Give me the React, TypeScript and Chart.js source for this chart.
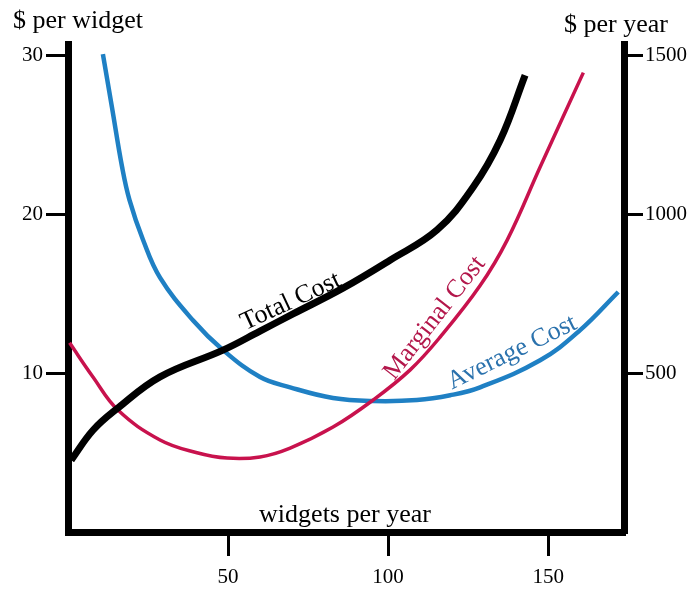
import React, { useEffect, useRef } from "react";
import { Chart, registerables } from "chart.js";

Chart.register(...registerables);

// ---- Data ----
// Total cost ($ per year, right axis)
const totalCostX = [1, 7.8, 15.6, 28.75, 48.4, 60, 70.3, 85.9, 100.6, 115.3, 126.6, 135, 142.8];
const totalCostY = [226, 320, 390, 488, 572, 632, 686, 767, 855, 950, 1085, 1232, 1437];

// Marginal cost ($ per widget, left axis)
const marginalCostX = [0.5, 7.8, 15.6, 28.75, 40, 49.7, 60, 69.4, 82.8, 95.3, 106.9, 116.25, 128.75, 137.2, 147.5, 161];
const marginalCostY = [11.9, 9.75, 7.67, 5.79, 5.0, 4.65, 4.72, 5.28, 6.6, 8.3, 10.2, 12.26, 15.5, 18.36, 22.96, 28.9];

// Average cost ($ per widget, left axis)
const averageCostX = [10.9, 13.75, 16.9, 19.2, 23.4, 28.75, 39.1, 48.4, 60, 69.4, 82.8, 95.3, 109, 119.4, 128.75, 147.5, 160, 171.9];
const averageCostY = [30.06, 26.7, 22.96, 20.9, 18.4, 16.0, 13.3, 11.45, 9.75, 9.1, 8.43, 8.24, 8.3, 8.6, 9.1, 10.8, 12.7, 15.1];

// Tick labels
const xTicks = [50, 100, 150];
const leftTicks = [10, 20, 30];
const rightTicks = [500, 1000, 1500];

// Texts
const leftAxisTitle = "$ per widget";
const rightAxisTitle = "$ per year";
const xAxisTitle = "widgets per year";
const curveLabels = ["Total Cost", "Marginal Cost", "Average Cost"];

// Axis ranges
const X_MAX = 173.7;
const LEFT_MAX = 30.7;
const RIGHT_MAX = LEFT_MAX * 50;

const FONT = "'Liberation Serif', 'Times New Roman', serif";
const RED = "#c8124d";
const BLUE = "#1f80c4";

const zip = (xs: number[], ys: number[]) => xs.map((x, i) => ({ x, y: ys[i] }));

const textPlugin = {
  id: "costTexts",
  afterDraw(chart: any) {
    const ctx = chart.ctx as CanvasRenderingContext2D;
    const xs = chart.scales.x;
    const ys = chart.scales.y;
    ctx.save();
    ctx.fillStyle = "#000";
    ctx.font = `26px ${FONT}`;
    ctx.textBaseline = "alphabetic";
    ctx.textAlign = "left";
    ctx.fillText(leftAxisTitle, 13, 28);
    ctx.fillText(rightAxisTitle, 564, 32);
    ctx.textAlign = "center";
    ctx.fillText(xAxisTitle, 345, 522);

    const labels = [
      { text: curveLabels[0], x: 70.5, y: 14.1, angle: -25, color: "#000" },
      { text: curveLabels[1], x: 116.25, y: 13.2, angle: -52, color: "#b3174b" },
      { text: curveLabels[2], x: 139.7, y: 10.9, angle: -26, color: "#2b72ad" },
    ];
    for (const l of labels) {
      ctx.save();
      ctx.translate(xs.getPixelForValue(l.x), ys.getPixelForValue(l.y));
      ctx.rotate((l.angle * Math.PI) / 180);
      ctx.fillStyle = l.color;
      ctx.font = `26px ${FONT}`;
      ctx.textAlign = "center";
      ctx.textBaseline = "alphabetic";
      ctx.fillText(l.text, 0, 0);
      ctx.restore();
    }
    ctx.restore();
  },
};

export default function App() {
  const ref = useRef<HTMLCanvasElement | null>(null);

  useEffect(() => {
    if (!ref.current) return;
    const tickFont = { family: FONT, size: 21 };
    const plain = (v: any) => String(v);
    const chart = new Chart(ref.current, {
      type: "line",
      data: {
        datasets: [
          {
            label: curveLabels[0],
            data: zip(totalCostX, totalCostY),
            xAxisID: "x",
            yAxisID: "y1",
            borderColor: "#000",
            borderWidth: 7,
            pointRadius: 0,
            fill: false,
            tension: 0.4,
          },
          {
            label: curveLabels[1],
            data: zip(marginalCostX, marginalCostY),
            xAxisID: "x",
            yAxisID: "y",
            borderColor: RED,
            borderWidth: 3.5,
            pointRadius: 0,
            fill: false,
            tension: 0.4,
          },
          {
            label: curveLabels[2],
            data: zip(averageCostX, averageCostY),
            xAxisID: "x",
            yAxisID: "y",
            borderColor: BLUE,
            borderWidth: 4.5,
            pointRadius: 0,
            fill: false,
            tension: 0.4,
          },
        ],
      },
      options: {
        responsive: false,
        animation: false,
        devicePixelRatio: 1,
        layout: { padding: { top: 44, left: 0, right: 0, bottom: 0 } },
        plugins: {
          legend: { display: false },
          tooltip: { enabled: false },
          title: { display: false },
        },
        scales: {
          x: {
            type: "linear",
            position: "bottom",
            min: 0,
            max: X_MAX,
            afterFit: (s: any) => {
              s.height = 57;
            },
            afterBuildTicks: (s: any) => {
              s.ticks = xTicks.map((v) => ({ value: v }));
            },
            grid: { drawOnChartArea: false, drawTicks: true, tickLength: 24, lineWidth: 3, color: "#000" },
            border: { display: true, width: 7, color: "#000" },
            ticks: { padding: 9, font: tickFont, color: "#000", maxRotation: 0, autoSkip: false, callback: plain },
          },
          y: {
            type: "linear",
            position: "left",
            min: 0,
            max: LEFT_MAX,
            afterFit: (s: any) => {
              s.width = 68;
            },
            afterBuildTicks: (s: any) => {
              s.ticks = leftTicks.map((v) => ({ value: v }));
            },
            grid: { drawOnChartArea: false, drawTicks: true, tickLength: 22, lineWidth: 3, color: "#000" },
            border: { display: true, width: 7, color: "#000" },
            ticks: { padding: 3, font: tickFont, color: "#000", autoSkip: false, callback: plain },
          },
          y1: {
            type: "linear",
            position: "right",
            min: 0,
            max: RIGHT_MAX,
            afterFit: (s: any) => {
              s.width = 66;
            },
            afterBuildTicks: (s: any) => {
              s.ticks = rightTicks.map((v) => ({ value: v }));
            },
            grid: { drawOnChartArea: false, drawTicks: true, tickLength: 19, lineWidth: 3, color: "#000" },
            border: { display: true, width: 7, color: "#000" },
            ticks: { padding: 2, font: tickFont, color: "#000", autoSkip: false, callback: plain },
          },
        },
      },
      plugins: [textPlugin],
    } as any);
    return () => chart.destroy();
  }, []);

  return (
    <div style={{ position: "absolute", left: 0, top: 0, width: 690, height: 589, background: "#fff" }}>
      <canvas ref={ref} width={690} height={589} style={{ display: "block" }} />
    </div>
  );
}
